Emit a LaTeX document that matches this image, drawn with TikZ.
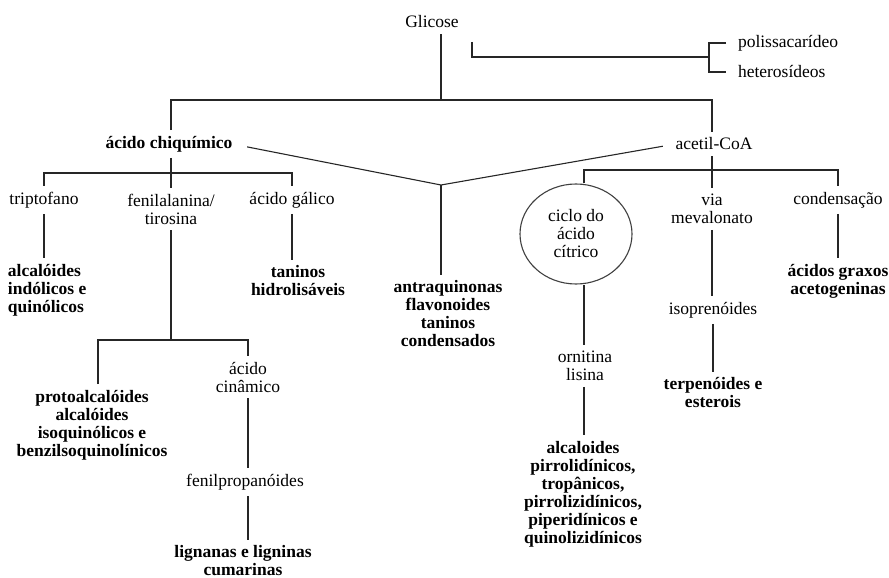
\documentclass[tikz,border=0pt]{standalone}
\usepackage{fontspec}
\setmainfont{Liberation Serif}
\usetikzlibrary{shapes.geometric}

\begin{document}
\begin{tikzpicture}[x=1pt,y=-1pt,
  txt/.style={inner sep=0pt,outer xsep=0pt,outer ysep=6pt,align=center,font=\fontsize{17.5}{18}\selectfont},
  bd/.style={txt,font=\fontsize{17.5}{18}\selectfont\bfseries},
  link/.style={draw=black!85,line width=1.1pt}]

\useasboundingbox (0,0) rectangle (889,578);

\node[txt] (glc) at (432,22) {Glicose};
\node[txt,anchor=west] (poli) at (738,43) {polissacarídeo};
\node[txt,anchor=west] (het) at (738,72) {heterosídeos};
\node[bd] (chiq) at (169,144) {ácido chiquímico};
\node[txt] (acet) at (714,144) {acetil-CoA};

\node[txt] (trip) at (44,200) {triptofano};
\node[txt] (fenil) at (171,209) {fenilalanina/\\tirosina};
\node[txt] (galico) at (292,200) {ácido gálico};
\node[bd,align=left,anchor=west] (alcind) at (8,290) {alcalóides\\indólicos e\\quinólicos};
\node[bd] (tanh) at (298,281) {taninos\\hidrolisáveis};
\node[bd] (antra) at (448,314) {antraquinonas\\flavonoides\\taninos\\condensados};

\node[ellipse,draw=black!75,line width=1.1pt,minimum width=112pt,minimum height=100pt,inner sep=0pt,
  align=center,font=\fontsize{17.5}{18}\selectfont] (ciclo) at (576,234) {ciclo do\\ácido\\cítrico};
\node[txt] (via) at (712,209) {via\\mevalonato};
\node[txt] (cond) at (838,200) {condensação};
\node[bd] (graxos) at (838,281) {ácidos graxos\\acetogeninas};
\node[txt] (isop) at (713,310) {isoprenóides};
\node[bd] (terp) at (713,393) {terpenóides e\\esterois};
\node[txt] (ornit) at (585,366) {ornitina\\lisina};
\node[bd] (pirrol) at (583,494) {alcaloides\\pirrolidínicos,\\tropânicos,\\pirrolizidínicos,\\piperidínicos e\\quinolizidínicos};

\node[txt] (cinam) at (248,377) {ácido\\cinâmico};
\node[bd] (proto) at (92,425) {protoalcalóides\\alcalóides\\isoquinólicos e\\benzilsoquinolínicos};
\node[txt] (fprop) at (245,482) {fenilpropanóides};
\node[bd] (lign) at (243,561) {lignanas e ligninas\\cumarinas};

\coordinate (gj) at (441,100);
\coordinate (bs) at (472,42);
\coordinate (bk) at (709,57);
\coordinate (vj) at (441,185);
\coordinate (cj) at (171,173);
\coordinate (fj) at (171,340);
\coordinate (fl) at (98,340);
\coordinate (fr) at (248,340);
\coordinate (aj) at (712,170);
\coordinate (cl) at (584,170);

\draw[link] (glc.south -| gj) -- (gj);
\draw[link] (chiq.north -| cj) |- (gj) -| (acet.north -| aj);
\draw[link] (bs) |- (bk);
\draw[link] ([xshift=-12pt]poli.west) -| (bk) |- ([xshift=-12pt]het.west);

\draw[link,shorten <=15pt,shorten >=13pt] (chiq.east) -- (vj) -- (acet.west);
\draw[link] (vj) -- (vj |- antra.north);

\draw[link] (chiq.south -| cj) -- (cj |- fenil.north);
\draw[link] (trip.north) |- (cj) -| (galico.north);
\draw[link] (trip.south) -- (trip.south |- alcind.north);
\draw[link] (galico.south) -- (galico.south |- tanh.north);
\draw[link] (fenil.south -| fj) -- (fj);
\draw[link] (fl |- proto.north) -- (fl) -- (fr) -- (fr |- cinam.north);
\draw[link] (cinam.south -| fr) -- (fr |- fprop.north);
\draw[link] (fprop.south -| fr) -- (fr |- lign.north);

\draw[link] (acet.south -| aj) -- (aj |- via.north);
\draw[link] (cl |- ciclo.north) -- (cl) -- (cond.north |- cl) -- (cond.north);
\draw[link] (cl |- ciclo.south) -- (cl |- ornit.north);
\draw[link] (ornit.south -| cl) -- (cl |- pirrol.north);
\draw[link] (via.south -| aj) -- (aj |- isop.north);
\draw[link] (isop.south) -- (isop.south |- terp.north);
\draw[link] (cond.south) -- (cond.south |- graxos.north);

\end{tikzpicture}
\end{document}
